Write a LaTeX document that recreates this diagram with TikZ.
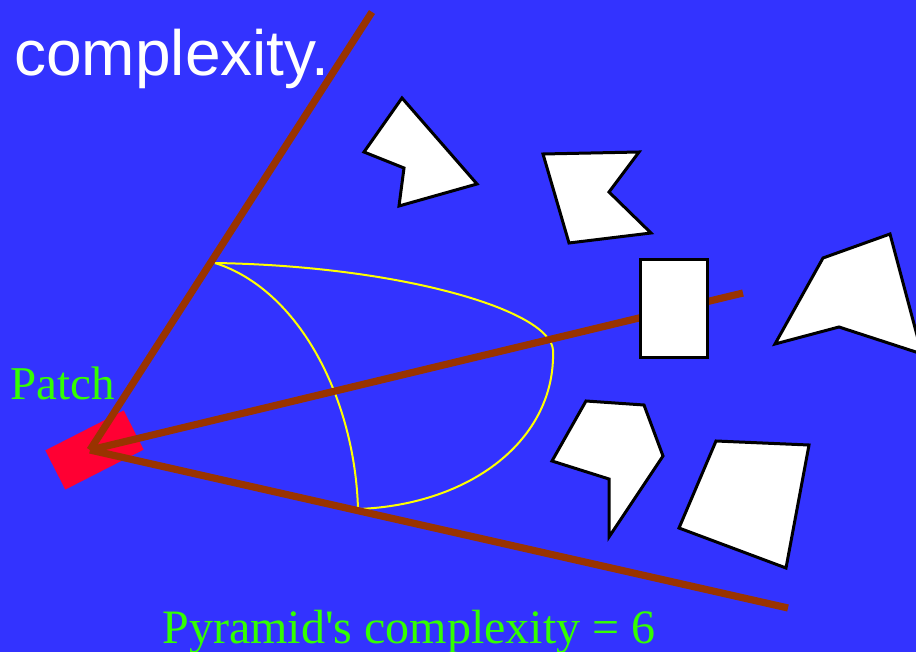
\documentclass[tikz,border=0pt]{standalone}
\usepackage{fontspec}
\setmainfont{Liberation Serif}
\setsansfont{Liberation Sans}
\usetikzlibrary{positioning}
\definecolor{SlideBlue}{HTML}{3333FF}
\definecolor{RayBrown}{HTML}{993300}
\definecolor{PatchRed}{HTML}{FF0033}
\definecolor{LabelGreen}{HTML}{33FF00}
\definecolor{BoundYellow}{HTML}{FFFF00}
\tikzset{
  ray/.style={RayBrown,line width=3.6pt},
  occluder/.style={draw=black,fill=white,line width=1.5pt,line join=miter},
  bound/.style={BoundYellow,line width=1pt},
  greenlabel/.style={text=LabelGreen,inner sep=0pt,anchor=base west},
}

\begin{document}
\begin{tikzpicture}[x=0.5pt,y=-0.5pt]
  \fill[SlideBlue] (0,0) rectangle (916,652);
  \useasboundingbox (0,0) rectangle (916,652);
  \clip (0,0) rectangle (916,652);
  % texts
  \node[anchor=base west,inner sep=0pt,text=white,
        font=\sffamily\fontsize{32}{38}\selectfont] (title) at (14,76) {complexity.};
  \node[greenlabel,font=\fontsize{23.5}{28}\selectfont] (patchlabel) at (10,400) {Patch};
  \node[greenlabel,font=\fontsize{24}{29}\selectfont] (complexity) at (162,643)
        {Pyramid\textquotesingle s complexity = 6};
  % patch and apex of the pyramid
  \node[fill=PatchRed,inner sep=0pt,minimum width=44pt,minimum height=22pt,
        rotate=27] (patch) at (94.5,450) {};
  \coordinate (apex) at (90,450);
  \coordinate (topend) at (372,12);
  \coordinate (midend) at (743,293);
  \coordinate (lowend) at (788,608);
  % yellow boundary of the cut
  \coordinate (ytop) at (215,263);
  \coordinate (ytip) at (553,350);
  \coordinate (ybot) at (358,509);
  \draw[bound] (ytop) .. controls (300,290) and (355,400) .. (ybot);
  \draw[bound] (ytop) .. controls (400,266) and (550,310) .. (ytip)
        .. controls (556,440) and (470,505) .. (ybot);
  % rays
  \draw[ray] (apex) -- (topend);
  \draw[ray] (apex) -- (midend);
  \draw[ray] (apex) -- (lowend);
  % occluders
  \draw[occluder] (402,98) -- (477,184) -- (399,206) -- (404,168) -- (364,152) -- cycle;
  \draw[occluder] (543,154) -- (639,152) -- (609,192) -- (651,233) -- (569,243) -- cycle;
  \draw[occluder] (640,260) rectangle (707,358);
  \draw[occluder] (823,258) -- (890,234) -- (922,354) -- (839,327) -- (775,344) -- cycle;
  \draw[occluder] (586,401) -- (644,405) -- (663,456) -- (609,537) -- (609,479) -- (552,461) -- cycle;
  \draw[occluder] (716,441) -- (809,445) -- (786,568) -- (679,528) -- cycle;
\end{tikzpicture}
\end{document}
